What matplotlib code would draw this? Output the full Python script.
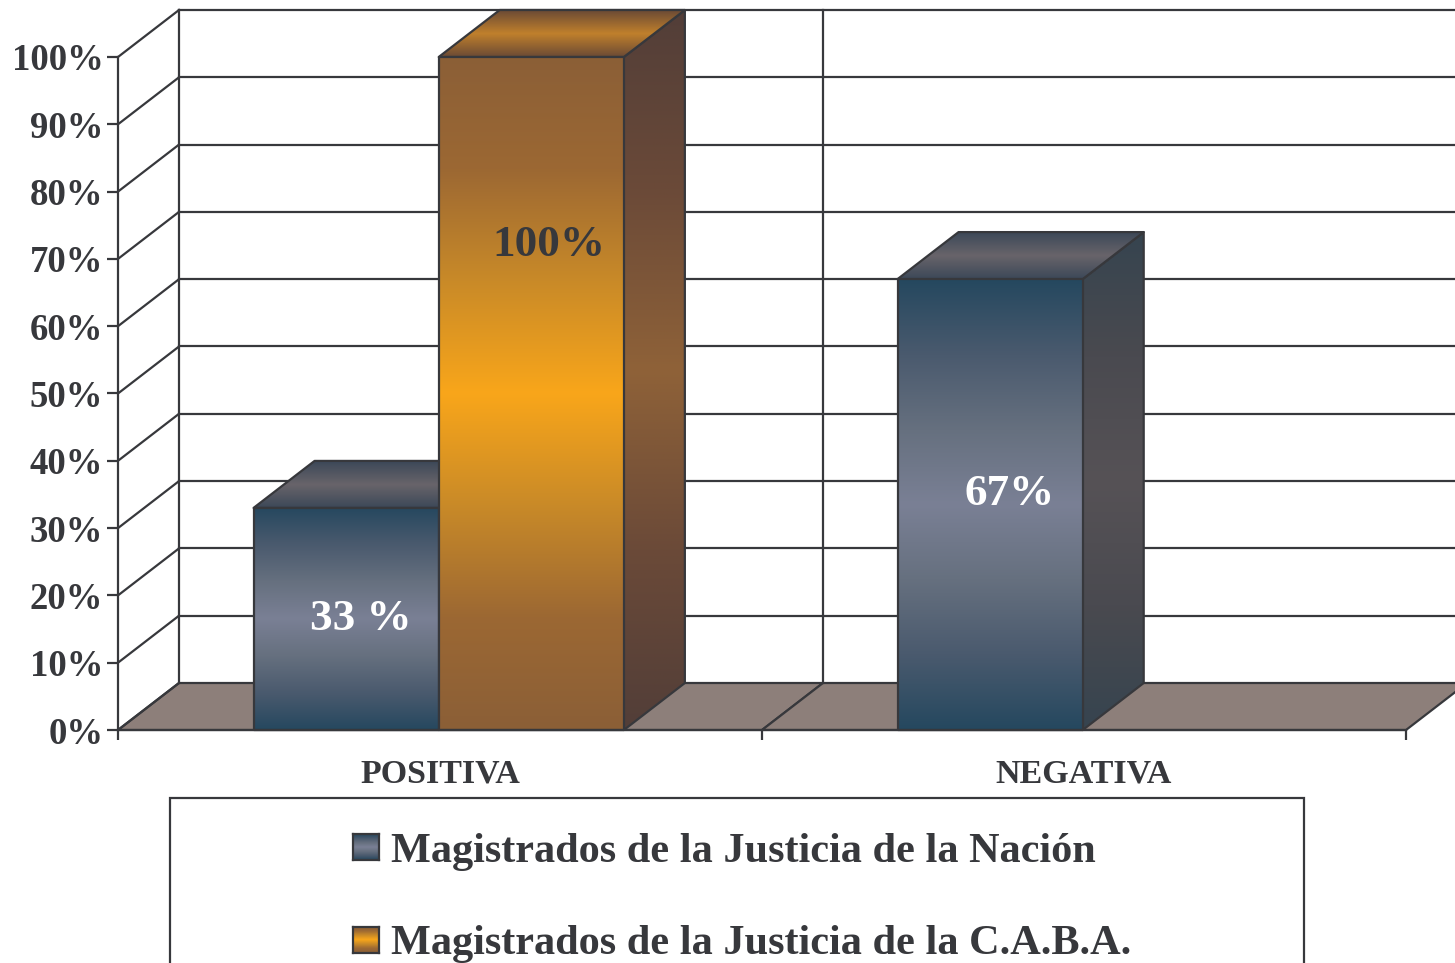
import numpy as np
import matplotlib
matplotlib.use("Agg")
import matplotlib.pyplot as plt
from matplotlib.colors import LinearSegmentedColormap
from matplotlib.patches import Polygon, Rectangle

### data
categories = ["POSITIVA", "NEGATIVA"]
nacion = [33, 67]
caba = [100, 0]
yticks = [0, 10, 20, 30, 40, 50, 60, 70, 80, 90, 100]
legend_labels = ["Magistrados de la Justicia de la Nación",
                 "Magistrados de la Justicia de la C.A.B.A."]

### style
W, H = 1455, 963
ink = "#37383c"
floor_col = "#8d7f7a"
lw = 1.6
dx = 61 / 644.0      # depth of the 3d box, in category units
dy = 47 / 6.73       # depth in percent units
bar_w = 0.2875

navy = {"front": ["#25485f", "#4a5a6e", "#66707f", "#7a8095", "#66707f", "#4a5a6e", "#25485f"],
        "side": ["#36444f", "#4a4a50", "#565256", "#4a4a50", "#36444f"],
        "top": ["#3c4858", "#68646a", "#3c4858"]}
orange = {"front": ["#8b5f37", "#9c6833", "#c98a28", "#f9a61a", "#c98a28", "#9c6833", "#8b5f37"],
          "side": ["#523e38", "#6b4a38", "#8f6238", "#6b4a38", "#523e38"],
          "top": ["#6b4a35", "#c0802c", "#6b4a35"]}


def fx(px):
    return px / float(W)


def fy(py):
    return 1 - py / float(H)


def grad(ax, pts, colors, z):
    # polygon filled with a vertical gradient
    xs = [p[0] for p in pts]
    ys = [p[1] for p in pts]
    cmap = LinearSegmentedColormap.from_list("g", colors)
    arr = np.linspace(0, 1, 256).reshape(-1, 1)
    im = ax.imshow(arr, cmap=cmap, origin="lower", aspect="auto", zorder=z,
                   extent=(min(xs), max(xs), min(ys), max(ys)))
    edge = Polygon(pts, closed=True, facecolor="none", edgecolor=ink, lw=lw,
                   joinstyle="round", clip_on=False, zorder=z + 0.1)
    ax.add_patch(edge)
    im.set_clip_path(edge)
    im.set_clip_box(fig.bbox)


def bar3d(ax, x0, v, pal, z):
    x1 = x0 + bar_w
    grad(ax, [(x1, 0), (x1 + dx, dy), (x1 + dx, v + dy), (x1, v)], pal["side"], z)
    grad(ax, [(x0, v), (x1, v), (x1 + dx, v + dy), (x0 + dx, v + dy)], pal["top"], z + 0.2)
    grad(ax, [(x0, 0), (x1, 0), (x1, v), (x0, v)], pal["front"], z + 0.4)


plt.rcParams["font.family"] = ["Liberation Serif", "DejaVu Serif"]
plt.rcParams["font.weight"] = "bold"

fig = plt.figure(figsize=(W / 100.0, H / 100.0), dpi=100)
ax = fig.add_axes([fx(118), fy(730), fx(1406) - fx(118), fy(57) - fy(730)])

### floor
for i in range(len(categories)):
    ax.add_patch(Polygon([(i, 0), (i + dx, dy), (i + 1 + dx, dy), (i + 1, 0)], closed=True,
                         facecolor=floor_col, edgecolor=ink, lw=lw, clip_on=False, zorder=1))

### walls
for t in yticks:
    ax.plot([0, dx], [t, t + dy], color=ink, lw=lw, clip_on=False, zorder=2)
    if t > 0:
        ax.plot([dx, 2 + dx], [t + dy, t + dy], color=ink, lw=lw, clip_on=False, zorder=2)
ax.plot([dx, dx], [dy, 100 + dy], color=ink, lw=lw, clip_on=False, zorder=2)
ax.plot([1 + dx, 1 + dx], [dy, 100 + dy], color=ink, lw=lw, clip_on=False, zorder=2)

### bars
for i in range(len(categories)):
    center = i + 0.498
    if nacion[i] > 0:
        bar3d(ax, center - bar_w, nacion[i], navy, 3 + i * 2)
    if caba[i] > 0:
        bar3d(ax, center, caba[i], orange, 4 + i * 2)

### value labels
ax.text(0.377, 16.5, "33 %", color="white", fontsize=32.5, ha="center", va="center", zorder=10)
ax.text(0.669, 72.1, "100%", color=ink, fontsize=32.5, ha="center", va="center", zorder=10)
ax.text(1.384, 35, "67%", color="white", fontsize=32.5, ha="center", va="center", zorder=10)

### axes
ax.set_xlim(0, 2)
ax.set_ylim(0, 100)
ax.patch.set_visible(False)
for s in ["top", "right"]:
    ax.spines[s].set_visible(False)
for s in ["left", "bottom"]:
    ax.spines[s].set_color(ink)
    ax.spines[s].set_linewidth(lw)
    ax.spines[s].set_zorder(9)
ax.set_yticks(yticks)
ax.set_yticklabels([str(t) + "%" for t in yticks], fontsize=26.5, color=ink)
ax.tick_params(axis="y", length=8, width=lw, color=ink, pad=2.5)
ax.set_xticks([0, 1, 2])
ax.set_xticklabels(["", "", ""])
ax.set_xticks([0.5, 1.5], minor=True)
ax.set_xticklabels(categories, minor=True, fontsize=24.5, color=ink)
ax.tick_params(axis="x", which="major", length=7, width=lw, color=ink)
ax.tick_params(axis="x", which="minor", length=0, pad=20.5)

### legend
fig.add_artist(Rectangle((fx(170), fy(1000)), fx(1304) - fx(170), fy(798) - fy(1000),
                         transform=fig.transFigure, facecolor="white", edgecolor=ink, lw=lw,
                         zorder=-1))
swatch_tops = [834, 927]
baselines = [862, 954]
for i in range(2):
    sw = fig.add_axes([fx(353), fy(swatch_tops[i] + 26), fx(26), 26.0 / H])
    pal = navy if i == 0 else orange
    cmap = LinearSegmentedColormap.from_list("s", pal["front"])
    sw.imshow(np.linspace(0, 1, 64).reshape(-1, 1), cmap=cmap, aspect="auto")
    sw.set_xticks([])
    sw.set_yticks([])
    for s in sw.spines.values():
        s.set_color(ink)
        s.set_linewidth(lw)
    fig.text(fx(391), fy(baselines[i]), legend_labels[i], fontsize=30.4, color=ink,
             ha="left", va="baseline")

fig.savefig("out.png", dpi=100)
